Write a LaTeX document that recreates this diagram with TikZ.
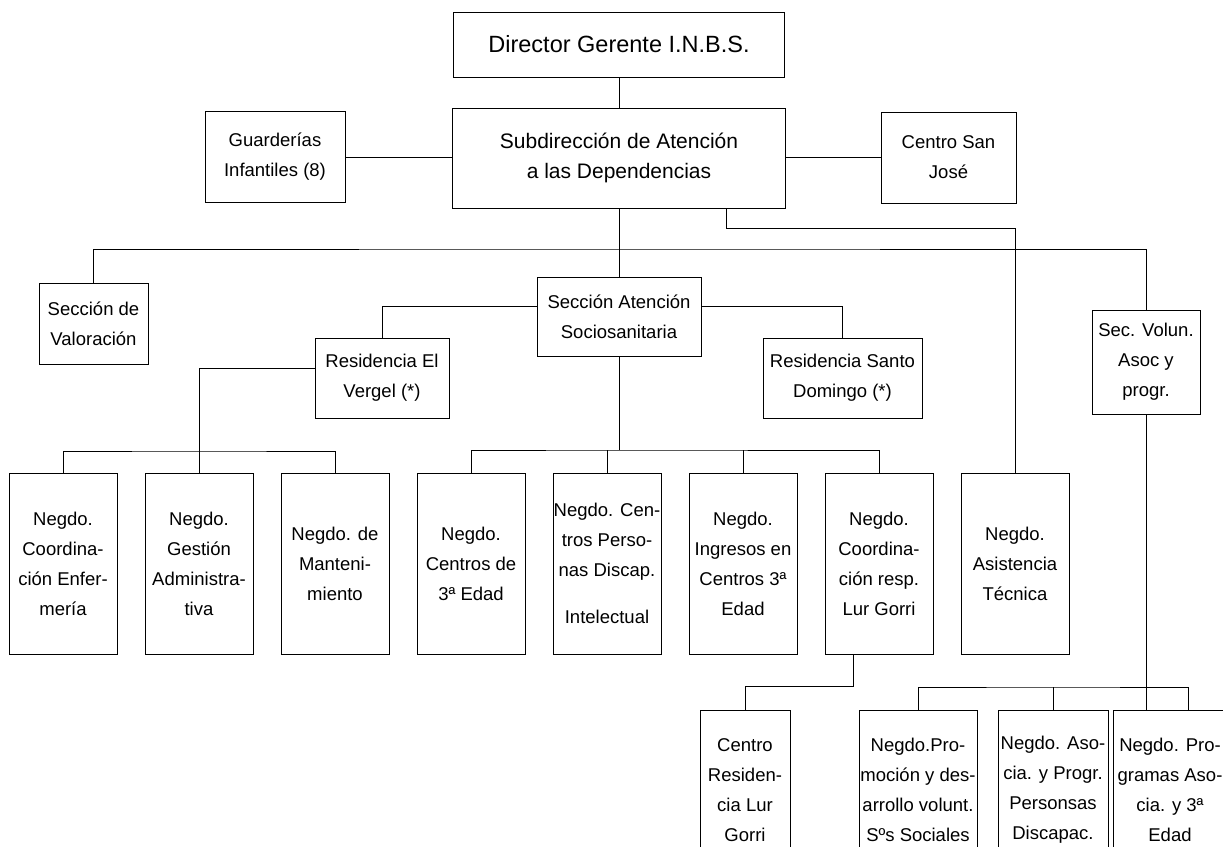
\documentclass[tikz,border=0pt]{standalone}
\usepackage{fontspec}
\setmainfont{Liberation Sans}
\begin{document}
\begin{tikzpicture}[x=0.5pt,y=-0.5pt,
    linea/.style={line width=0.5pt},
    caja/.style={draw,line width=0.5pt,inner sep=0pt,align=center,
      font=\fontsize{9.25}{15}\selectfont},
    negdo/.style={caja,minimum width=54pt,minimum height=90.5pt},
    bajo/.style={caja,minimum height=80pt}]
  \useasboundingbox (0,0) rectangle (1223,847);
  \clip (0,0) rectangle (1223,847);
  % direccion
  \node[caja,minimum width=165.5pt,minimum height=32.5pt,
    font=\fontsize{11.75}{15}\selectfont] (dir) at (619,44.5) {Director Gerente I.N.B.S.};
  \node[caja,minimum width=166.5pt,minimum height=50pt,
    font=\fontsize{10.5}{15}\selectfont] (subdir) at (619,158) {Subdirección de Atención\\a las Dependencias};
  \node[caja,minimum width=70pt,minimum height=45.5pt] (guard) at (275,157) {Guarderías\\Infantiles (8)};
  \node[caja,minimum width=67.5pt,minimum height=45.5pt] (sanjose) at (948.5,157.5) {Centro San\\José};
  % secciones
  \node[caja,minimum width=54.5pt,minimum height=40.5pt] (valor) at (93.5,323.5) {Sección de\\Valoración};
  \node[caja,minimum width=82pt,minimum height=39.5pt] (secaten) at (619,316.5) {Sección Atención\\Sociosanitaria};
  \node[caja,minimum width=67pt,minimum height=40pt] (vergel) at (382,378) {Residencia El\\Vergel (*)};
  \node[caja,minimum width=79.5pt,minimum height=40pt] (domingo) at (842.5,378) {Residencia Santo\\Domingo (*)};
  \node[caja,minimum width=54pt,minimum height=52pt] (volun) at (1146,362) {Sec. Volun.\\Asoc y\\progr.};
  % negociados
  \node[negdo] (coord) at (63,563.5) {Negdo.\\Coordina-\\ción Enfer-\\mería};
  \node[negdo] (gest) at (199,563.5) {Negdo.\\Gestión\\Administra-\\tiva};
  \node[negdo] (mant) at (335,563.5) {Negdo. de\\Manteni-\\miento};
  \node[negdo] (edad) at (471,563.5) {Negdo.\\Centros de\\3ª Edad};
  \node[negdo] (discap) at (607,563.5) {Negdo. Cen-\\tros Perso-\\nas Discap.\\[8.5pt]Intelectual};
  \node[negdo] (ingr) at (743,563.5) {Negdo.\\Ingresos en\\Centros 3ª\\Edad};
  \node[negdo] (lurg) at (879,563.5) {Negdo.\\Coordina-\\ción resp.\\Lur Gorri};
  \node[negdo] (asis) at (1015,563.5) {Negdo.\\Asistencia\\Técnica};
  % ultima fila
  \node[bajo,minimum width=45pt] (lurres) at (745,790) {Centro\\Residen-\\cia Lur\\Gorri};
  \node[bajo,minimum width=59pt] (promo) at (918,790) {Negdo.Pro-\\moción y des-\\arrollo volunt.\\Sºs Sociales};
  \node[bajo,minimum width=55pt] (asoc) at (1053,790) {Negdo. Aso-\\cia. y Progr.\\Personsas\\Discapac.};
  \node[bajo,minimum width=57pt] (prog) at (1170,790) {Negdo. Pro-\\gramas Aso-\\cia. y 3ª\\Edad};
  % puntos de las lineas
  \coordinate (busT) at (619,249);
  \coordinate (tecT) at (726,228);
  \coordinate (busV) at (199,451);
  \coordinate (busS) at (619,450);
  \coordinate (busL) at (853,686);
  \coordinate (busA) at (1053,687);
  % lineas
  \draw[linea] (dir) -- (subdir);
  \draw[linea] (guard.east) -- (guard.east -| subdir.west);
  \draw[linea] (sanjose.west -| subdir.east) -- (sanjose.west);
  \draw[linea] (valor.north) |- (busT) -| (volun.north);
  \draw[linea] (subdir) -- (secaten);
  \draw[linea] (tecT |- subdir.south) -- (tecT) -| (asis.north);
  \draw[linea] (secaten.173) -| (vergel.north);
  \draw[linea] (secaten.7) -| (domingo.north);
  \draw[linea] (vergel.172) -| (busV);
  \draw[linea] (coord.north) |- (busV) -| (mant.north);
  \draw[linea] (busV) -- (gest.north);
  \draw[linea] (secaten.south) -- (busS);
  \draw[linea] (edad.north) |- (busS) -| (lurg.north);
  \draw[linea] (discap.north) -- (discap.north |- busS);
  \draw[linea] (ingr.north) -- (ingr.north |- busS);
  \draw[linea] (busL |- lurg.south) -- (busL) -| (lurres.north);
  \draw[linea] (volun.south) -- (volun.south |- prog.north);
  \draw[linea] (promo.north) |- (busA) -| ([xshift=9pt]prog.north);
  \draw[linea] (busA) -- (asoc.north);
\end{tikzpicture}
\end{document}
